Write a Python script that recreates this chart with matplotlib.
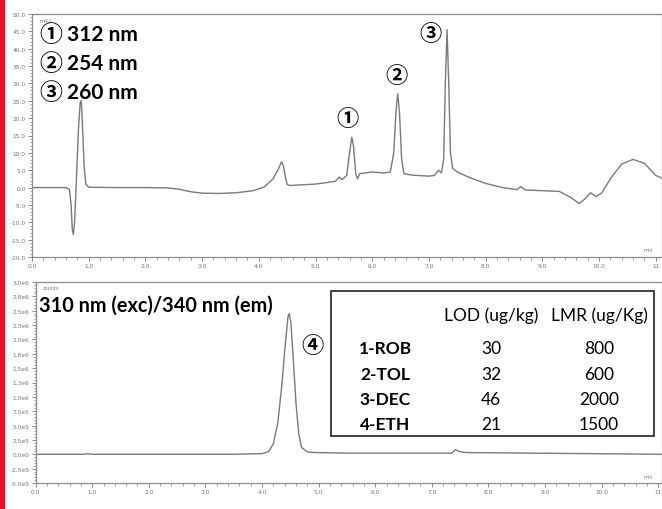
import matplotlib
matplotlib.use("Agg")
import matplotlib.pyplot as plt
from matplotlib.ticker import MultipleLocator, FixedLocator, AutoMinorLocator
from matplotlib.patches import Rectangle

# ---------------- data ----------------
uv_time = [0.0, 0.6, 0.66, 0.69, 0.71, 0.73, 0.75, 0.77, 0.79, 0.82, 0.85, 0.87,
           0.89, 0.92, 0.95, 1.0, 1.5, 2.0, 2.4, 2.6, 2.8, 3.0, 3.3, 3.6, 3.9,
           4.1, 4.25, 4.35, 4.40, 4.43, 4.47, 4.5, 4.55, 5.0, 5.35, 5.42, 5.47,
           5.55, 5.6, 5.64, 5.67, 5.71, 5.74, 5.78, 6.0, 6.2, 6.32, 6.38, 6.42,
           6.45, 6.48, 6.52, 6.56, 6.7, 7.0, 7.1, 7.17, 7.22, 7.26, 7.29, 7.32,
           7.35, 7.38, 7.42, 7.5, 7.7, 8.0, 8.3, 8.55, 8.62, 8.7, 9.0, 9.3, 9.5,
           9.65, 9.75, 9.85, 9.95, 10.05, 10.2, 10.4, 10.6, 10.8, 11.0, 11.1]
uv_mau = [0.0, 0.0, -0.5, -5.0, -12.0, -13.5, -10.0, -3.0, 5.0, 17.0, 24.5, 25.0,
          18.0, 6.0, 1.0, 0.1, 0.0, 0.0, -0.1, -0.5, -1.2, -1.6, -1.7, -1.5, -0.9,
          0.2, 2.5, 5.5, 7.4, 6.5, 3.0, 0.9, 0.6, 1.0, 1.8, 3.0, 2.3,
          3.5, 10.0, 14.5, 12.0, 4.0, 2.5, 4.0, 4.5, 4.2, 4.5, 10.0, 22.0,
          27.0, 22.0, 8.0, 4.0, 3.6, 3.3, 3.5, 5.0, 4.2, 8.0, 30.0, 45.5,
          30.0, 10.0, 5.5, 4.5, 3.0, 1.2, 0.0, -0.6, 0.3, -0.7, -0.9, -1.1, -2.8,
          -4.6, -3.3, -1.5, -2.6, -1.5, 2.5, 6.8, 8.1, 7.0, 3.5, 2.8]

fl_time = [0.0, 0.85, 0.9, 1.0, 3.5, 3.9, 4.0, 4.12, 4.2, 4.28, 4.35, 4.41, 4.46,
           4.48, 4.51, 4.55, 4.6, 4.65, 4.7, 4.8, 4.95, 5.5, 7.35, 7.42, 7.48,
           7.6, 11.1]
fl_counts = [0.0, 0.0, 0.01, 0.0, 0.0, 0.01, 0.01, 0.05, 0.18, 0.55, 1.2, 1.9, 2.4,
             2.45, 2.3, 1.7, 0.9, 0.35, 0.12, 0.04, 0.03, 0.02, 0.02, 0.08, 0.05,
             0.03, 0.0]   # x 1e6 counts

wl_marks = ["\u2460", "\u2461", "\u2462"]
wl_texts = ["312 nm", "254 nm", "260 nm"]
peak_marks = ["\u2460", "\u2461", "\u2462"]
peak_mark_pos = [(5.56, 20.0), (6.42, 32.2), (7.02, 44.3)]
fl_title = "310 nm (exc)/340 nm (em)"
fl_mark = "\u2463"
fl_mark_pos = (4.9, 1.9)

uv_yticks = [50, 45, 40, 35, 30, 25, 20, 15, 10, 5, 0, -5, -10, -15, -20]
x_ticks = [0, 1, 2, 3, 4, 5, 6, 7, 8, 9, 10, 11]
x_labels = ["0.0", "1.0", "2.0", "3.0", "4.0", "5.0", "6.0", "7.0", "8.0",
            "9.0", "10.0", "11"]
fl_yticks = [3.0, 2.75, 2.5, 2.25, 2.0, 1.75, 1.5, 1.25, 1.0, 0.75, 0.5, 0.25,
             0.0, -0.25, -0.5]
fl_ylabels = ["3.0e6", "2.8e6", "2.5e6", "2.3e6", "2.0e6", "1.8e6", "1.5e6",
              "1.3e6", "1.0e6", "7.5e5", "5.0e5", "2.5e5", "0.0e0", "-2.5e5",
              "-5.0e5"]

compounds = ["1-ROB", "2-TOL", "3-DEC", "4-ETH"]
lod = [30, 32, 46, 21]
lmr = [800, 600, 2000, 1500]
col_headers = ["LOD (ug/kg)", "LMR (ug/Kg)"]

# ---------------- figure ----------------
W, H = 662, 510
fig = plt.figure(figsize=(W / 100, H / 100), dpi=100)
fig.patch.set_facecolor("white")

FONT = ["Lato", "Noto Sans CJK JP", "DejaVu Sans"]
CIRC = ["Noto Sans CJK JP", "DejaVu Sans"]
TICKC = "#777777"
LINEC = "#7a7a7a"


def px_axes(l, t, r, b):
    return fig.add_axes([l / W, 1 - b / H, (r - l) / W, (b - t) / H])


def style(ax):
    for s in ax.spines.values():
        s.set_color("#8c8c8c")
        s.set_linewidth(0.9)
    ax.tick_params(axis="both", which="major", labelsize=4.2, colors=TICKC,
                   length=3, width=0.6, pad=1.5)
    ax.tick_params(axis="both", which="minor", length=1.8, width=0.5,
                   colors=TICKC)
    ax.set_xticks(x_ticks)
    ax.set_xticklabels(x_labels)
    ax.xaxis.set_minor_locator(AutoMinorLocator(5))


# top UV chromatogram
ax1 = px_axes(32, 15, 662, 258)
ax1.plot(uv_time, uv_mau, color=LINEC, lw=1.0)
ax1.set_xlim(0, (662 - 32) / 56.7)
ax1.set_ylim(-20, 50)
style(ax1)
ax1.yaxis.set_major_locator(FixedLocator(uv_yticks))
ax1.set_yticklabels([f"{v:.1f}" for v in uv_yticks])
ax1.yaxis.set_minor_locator(MultipleLocator(1))
ax1.text(0.012, 0.985, "mAU", transform=ax1.transAxes, fontsize=3.5,
         color=TICKC, va="top", ha="left")
ax1.text(0.985, 0.02, "min", transform=ax1.transAxes, fontsize=3.5,
         color=TICKC, va="bottom", ha="right")
for i, (m, s) in enumerate(zip(wl_marks, wl_texts)):
    yy = 0.917 - i * 0.12
    ax1.text(0.030, yy, m, transform=ax1.transAxes, fontsize=16.5,
             fontweight="bold", family=CIRC, va="center", ha="center")
    ax1.text(0.055, yy, s, transform=ax1.transAxes, fontsize=15,
             fontweight="bold", family=FONT, va="center", ha="left")
for m, (x, y) in zip(peak_marks, peak_mark_pos):
    ax1.text(x, y, m, fontsize=16, fontweight="bold", family=CIRC,
             va="center", ha="center")

# bottom fluorescence chromatogram
ax2 = px_axes(35.6, 283, 662, 484)
ax2.plot(fl_time, fl_counts, color=LINEC, lw=1.0)
ax2.set_xlim(0, (662 - 35.6) / 56.6)
ax2.set_ylim(-0.5, 3.0)
style(ax2)
ax2.yaxis.set_major_locator(FixedLocator(fl_yticks))
ax2.set_yticklabels(fl_ylabels)
ax2.yaxis.set_minor_locator(MultipleLocator(0.05))
ax2.text(0.012, 0.985, "counts", transform=ax2.transAxes, fontsize=3.5,
         color=TICKC, va="top", ha="left")
ax2.text(0.985, 0.02, "min", transform=ax2.transAxes, fontsize=3.5,
         color=TICKC, va="bottom", ha="right")
ax2.text(0.005, 0.885, fl_title, transform=ax2.transAxes, fontsize=14.3,
         fontweight="bold", family=FONT, va="center", ha="left")
ax2.text(fl_mark_pos[0], fl_mark_pos[1], fl_mark, fontsize=16, fontweight="bold",
         family=CIRC, va="center", ha="center")

# table box (figure pixel coordinates)
def fx(x):
    return x / W


def fy(y):
    return 1 - y / H


fig.patches.append(Rectangle((fx(331), fy(437)), fx(654) - fx(331),
                             fy(292) - fy(437), transform=fig.transFigure,
                             facecolor="white", edgecolor="#222222", lw=1.2,
                             zorder=5))
col_x = [491, 599]
for cx, h in zip(col_x, col_headers):
    fig.text(fx(cx), fy(316), h, fontsize=12.5, family=FONT, ha="center",
             va="center", zorder=6)
row_y = [349, 375, 400, 425]
for ry, c, a, b in zip(row_y, compounds, lod, lmr):
    fig.text(fx(385), fy(ry), c, fontsize=12.5, fontweight="bold", family=FONT,
             ha="center", va="center", zorder=6)
    fig.text(fx(col_x[0]), fy(ry), str(a), fontsize=12.5, family=FONT,
             ha="center", va="center", zorder=6)
    fig.text(fx(col_x[1]), fy(ry), str(b), fontsize=12.5, family=FONT,
             ha="center", va="center", zorder=6)

# red left border
fig.patches.append(Rectangle((0, 0), 5 / W, 1, transform=fig.transFigure,
                             facecolor="#e8112d", edgecolor="none", zorder=10))

fig.savefig("out.png", dpi=100)
